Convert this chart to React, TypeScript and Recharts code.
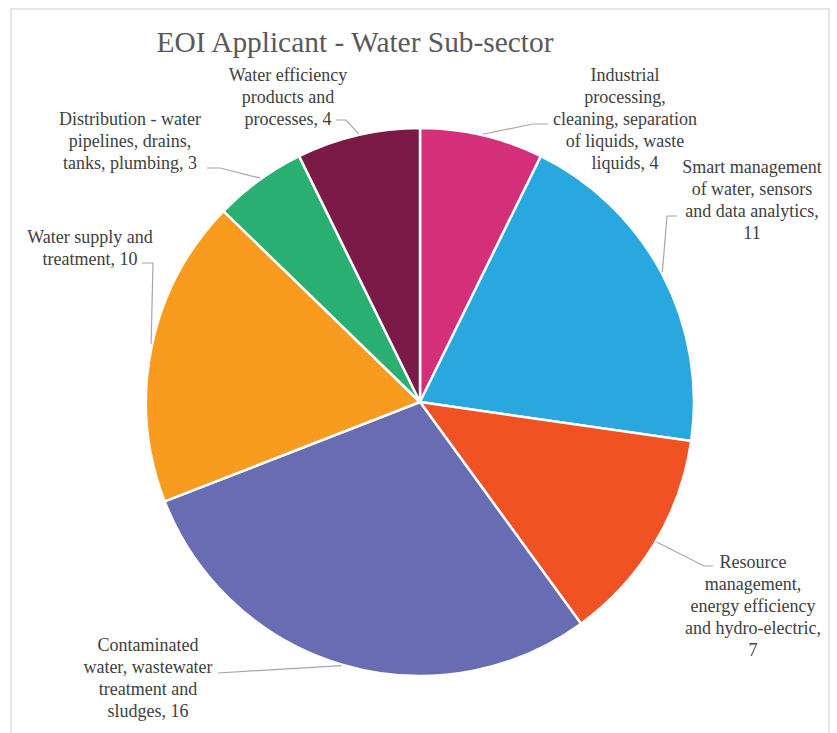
import { Cell, Pie, PieChart } from "recharts";

const categories = [
  "Industrial processing, cleaning, separation of liquids, waste liquids",
  "Smart management of water, sensors and data analytics",
  "Resource management, energy efficiency and hydro-electric",
  "Contaminated water, wastewater treatment and sludges",
  "Water supply and treatment",
  "Distribution - water pipelines, drains, tanks, plumbing",
  "Water efficiency products and processes",
];
const values = [4, 11, 7, 16, 10, 3, 4];
const colors = ["#D42F7B", "#29A8E0", "#F15223", "#686CB2", "#F99B1F", "#2AAF72", "#7C1A47"];

// label text, wrapped the way the original chart wraps it; {v} is the value
const labelLines = [
  ["Industrial", "processing,", "cleaning, separation", "of liquids, waste", "liquids, {v}"],
  ["Smart management", "of water, sensors", "and data analytics,", "{v}"],
  ["Resource", "management,", "energy efficiency", "and hydro-electric,", "{v}"],
  ["Contaminated", "water, wastewater", "treatment and", "sludges, {v}"],
  ["Water supply and", "treatment, {v}"],
  ["Distribution - water", "pipelines, drains,", "tanks, plumbing, {v}"],
  ["Water efficiency", "products and", "processes, {v}"],
];

// where each label sits and how its leader line runs to the edge of the pie
const labelLayout = [
  { x: 625, y: 81, attach: 76.8, path: [[548, 124], [533, 124]] },
  { x: 752, y: 173, attach: 28.2, path: [[677, 216], [667, 216]] },
  { x: 753, y: 568, attach: -30.6, path: [[713, 566], [704, 566]] },
  { x: 148, y: 651, attach: 253.4, path: [[218, 673]] },
  { x: 90, y: 243, attach: 167.9, path: [[142, 263], [153, 263]] },
  { x: 130, y: 125, attach: 125.5, path: [[207, 168], [220, 168]] },
  { x: 288, y: 81, attach: 102.9, path: [[336, 120], [346, 120]] },
];

const data = categories.map((name, i) => ({ name, value: values[i] }));

const FONT = "'Liberation Serif', 'Times New Roman', serif";
const RAD = Math.PI / 180;

function renderLabel(props: any) {
  const { index, value } = props;
  const cx = props.cx ?? 420;
  const cy = props.cy ?? 402;
  const r = (props.outerRadius ?? 274) + 1;
  const layout = labelLayout[index];
  const ex = cx + r * Math.cos(layout.attach * RAD);
  const ey = cy - r * Math.sin(layout.attach * RAD);
  const pts = [...layout.path, [ex, ey]].map((p) => p.join(",")).join(" ");
  return (
    <g key={`label-${index}`}>
      <polyline points={pts} fill="none" stroke="#A6A6A6" strokeWidth={1.2} />
      <text x={layout.x} y={layout.y} textAnchor="middle" fontFamily={FONT} fontSize={18} fill="#404040">
        {labelLines[index].map((line, j) => (
          <tspan key={j} x={layout.x} dy={j === 0 ? 0 : 22}>
            {line.replace("{v}", String(value))}
          </tspan>
        ))}
      </text>
    </g>
  );
}

export default function App() {
  return (
    <div style={{ position: "absolute", left: 0, top: 0, width: 837, height: 733, background: "#fff", overflow: "hidden" }}>
      <div
        style={{
          position: "absolute",
          left: 10,
          top: 8,
          width: 820,
          height: 740,
          border: "2px solid #E6E6E6",
          boxSizing: "border-box",
        }}
      />
      <div
        style={{
          position: "absolute",
          left: 0,
          top: 28,
          width: 710,
          textAlign: "center",
          fontFamily: FONT,
          fontSize: 29.4,
          lineHeight: "29px",
          color: "#595959",
          whiteSpace: "nowrap",
        }}
      >
        EOI Applicant - Water Sub-sector
      </div>
      <div style={{ position: "absolute", left: 0, top: 0 }}>
        <PieChart width={837} height={733} margin={{ top: 0, right: 0, bottom: 0, left: 0 }}>
          <Pie
            data={data}
            dataKey="value"
            nameKey="name"
            cx={420}
            cy={402}
            outerRadius={274}
            startAngle={90}
            endAngle={-270}
            stroke="#FFFFFF"
            strokeWidth={2.5}
            label={renderLabel}
            labelLine={false}
            isAnimationActive={false}
          >
            {data.map((d, i) => (
              <Cell key={d.name} fill={colors[i]} />
            ))}
          </Pie>
        </PieChart>
      </div>
    </div>
  );
}
